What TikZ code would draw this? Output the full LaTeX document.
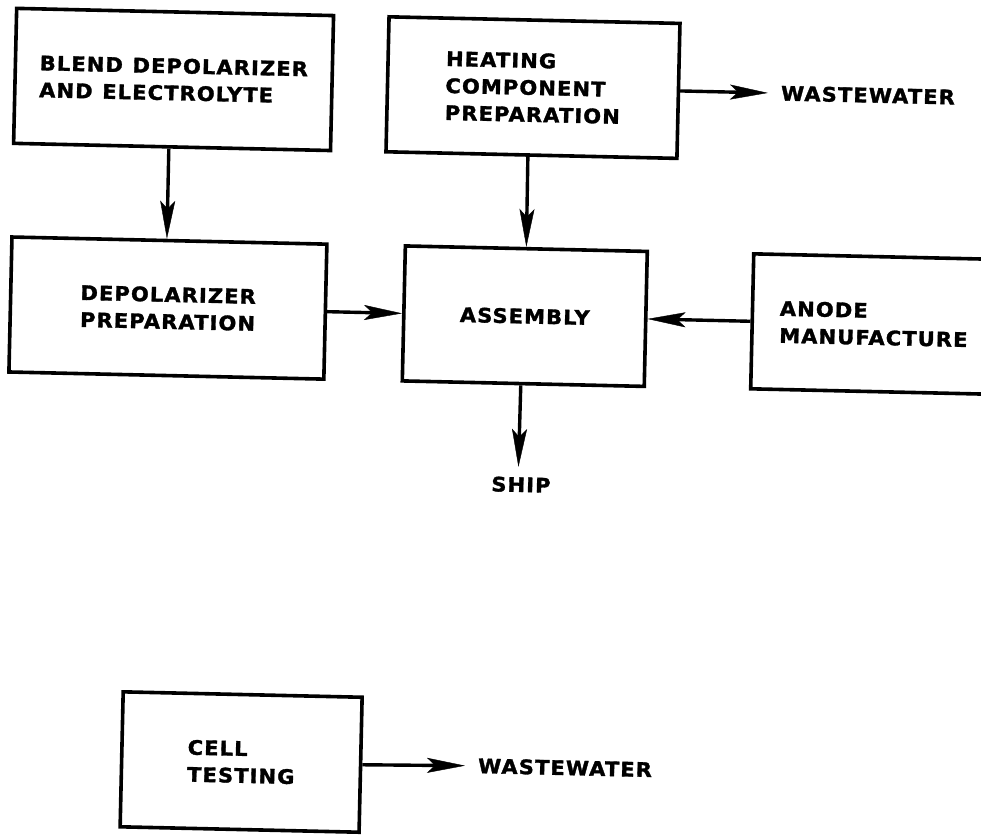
\documentclass[tikz,border=0pt]{standalone}
\usepackage{fontspec}
\usetikzlibrary{arrows.meta,calc}
\newfontfamily\labelfont{DejaVu Sans}[LetterSpace=5.5,FakeStretch=1.05,FakeBold=1.6,WordSpace=1.15]
\begin{document}
\begin{tikzpicture}[x=1pt,y=-1pt,
  txt/.style={font={\labelfont\bfseries\fontsize{20pt}{27pt}\selectfont}},
  box/.style={txt,draw,line width=3.6pt,minimum height=135pt,inner sep=0pt},
  lbl/.style={txt,inner sep=0pt},
  conn/.style={line width=3.4pt,-{Stealth[length=38pt,width=15pt,inset=8pt,line width=0.4pt]}}
]
\fill[white] (0,0) rectangle (981,834);
\useasboundingbox (0,0) rectangle (981,834);
\clip (0,0) rectangle (981,834);
\begin{scope}[rotate around={-1.3:(490,417)},transform shape]
  % process boxes
  \node[box,minimum width=317pt,align=left]   (blend) at (166,86.7)    {BLEND DEPOLARIZER\\AND ELECTROLYTE};
  \node[box,minimum width=291pt,align=left]   (heat)  at (525.5,86.7)  {HEATING\\COMPONENT\\PREPARATION};
  \node[box,minimum width=315pt,align=center] (depol) at (165.5,315.4) {DEPOLARIZER\\PREPARATION};
  \node[box,minimum width=242pt]              (asm)   at (522.5,315.4) {ASSEMBLY};
  \node[box,minimum width=243pt,align=left]   (anode) at (871.5,315.4) {ANODE\\MANUFACTURE};
  \node[box,minimum width=239pt,align=left]   (cell)  at (249,767.6)   {CELL\\TESTING};
  % free labels
  \node[lbl] (ww1)  at (860.6,86.7) {WASTEWATER};
  \node[lbl] (ship) at (522.5,484)  {SHIP};
  \node[lbl] (ww2)  at (573,766)    {WASTEWATER};
  % flows
  \draw[conn] ($(blend.south west)!0.49!(blend.south east)$) -- ($(depol.north west)!0.492!(depol.north east)$);
  \draw[conn] ($(heat.south west)!0.488!(heat.south east)$) -- (asm.north);
  \draw[conn,shorten >=13pt] (heat.east) -- (ww1.west);
  \draw[conn] (depol.east) -- (asm.west);
  \draw[conn] (anode.west) -- (asm.east);
  \draw[conn,shorten >=10pt] ($(asm.south west)!0.49!(asm.south east)$) -- ($(ship.north west)!0.45!(ship.north east)$);
  \draw[conn,shorten >=13pt] (cell.east) -- (ww2.west);
\end{scope}
\end{tikzpicture}
\end{document}
